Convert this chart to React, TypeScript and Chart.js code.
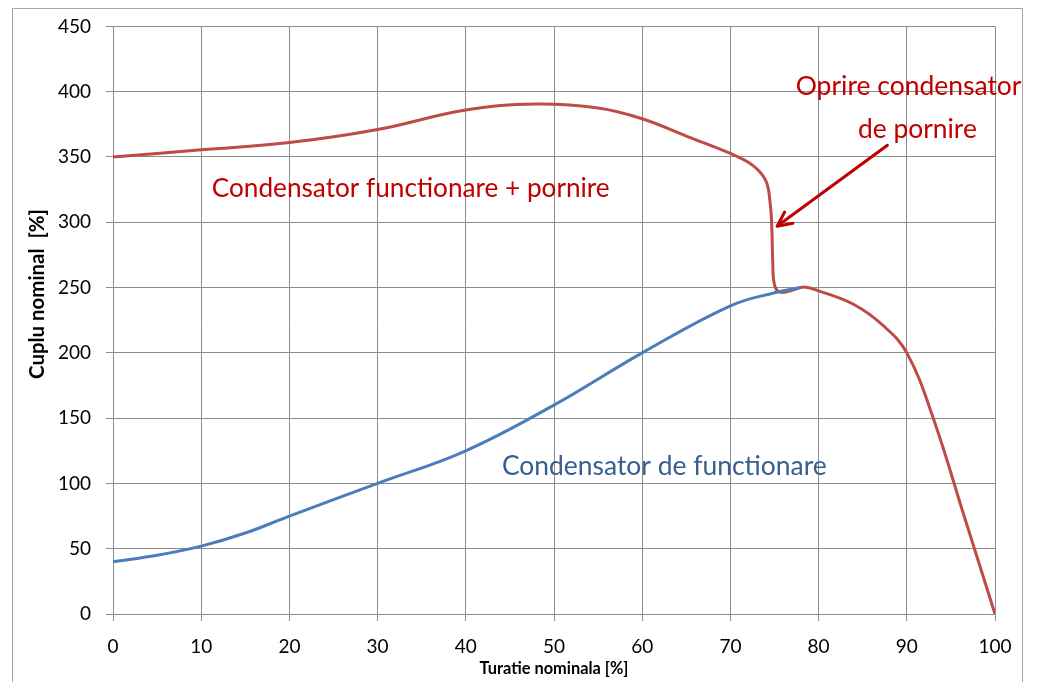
import React, { useEffect, useRef } from "react";
import { Chart, registerables } from "chart.js";

Chart.register(...registerables);

const xTicks = [0, 10, 20, 30, 40, 50, 60, 70, 80, 90, 100];
const yTicks = [0, 50, 100, 150, 200, 250, 300, 350, 400, 450];

const redX = [0, 10, 20, 30, 40, 48, 55, 60, 65, 70, 72.5, 74, 74.5, 74.7, 74.8, 75, 75.6, 77, 78.3, 80, 84, 87.3, 90, 93, 96.5, 100];
const redY = [350, 355.5, 361, 371, 386, 390.5, 387.5, 379.3, 366, 352.7, 343.8, 332, 315, 295, 270, 252, 246.5, 248, 250.5, 247.5, 237, 221, 200, 150, 75, 0];

const blueX = [0, 5, 10, 15, 20, 30, 40, 50, 60, 70, 75, 78];
const blueY = [40, 45, 52, 62, 75, 100, 125, 160, 200, 236, 246, 250];

const FONT = "Lato, 'Open Sans', sans-serif";

const labels = [
  { text: "Condensator functionare + pornire", x: 11.2, y: 326, align: "left", color: "#c00000", width: 398 },
  { text: "Condensator de functionare", x: 44.1, y: 113, align: "left", color: "#376092", width: 325 },
  { text: "Oprire condensator", x: 90.2, y: 404, align: "center", color: "#c00000", width: 226 },
  { text: "de pornire", x: 91.2, y: 371, align: "center", color: "#c00000", width: 119 },
];

const arrowFrom = { x: 87.8, y: 359 };
const arrowTo = { x: 75.3, y: 297 };

function fitFont(ctx: any, text: string, width: number, weight: string) {
  ctx.font = `${weight} 20px ${FONT}`;
  const w = ctx.measureText(text).width;
  const size = (20 * width) / w;
  ctx.font = `${weight} ${size}px ${FONT}`;
}

const overlay = {
  id: "overlay",
  beforeDraw(chart: any) {
    const ctx = chart.ctx;
    ctx.save();
    ctx.fillStyle = "#ffffff";
    ctx.fillRect(0, 0, chart.width, chart.height);
    ctx.strokeStyle = "#a6a6a6";
    ctx.lineWidth = 1;
    ctx.strokeRect(12.5, 8.5, 1010, 680);
    ctx.restore();
  },
  afterDraw(chart: any) {
    const ctx = chart.ctx;
    const xs = chart.scales.x;
    const ys = chart.scales.y;
    ctx.save();
    ctx.textBaseline = "middle";
    for (const l of labels) {
      fitFont(ctx, l.text, l.width, "normal");
      ctx.fillStyle = l.color;
      ctx.textAlign = l.align;
      ctx.fillText(l.text, xs.getPixelForValue(l.x), ys.getPixelForValue(l.y));
    }
    // arrow
    const x1 = xs.getPixelForValue(arrowFrom.x);
    const y1 = ys.getPixelForValue(arrowFrom.y);
    const x2 = xs.getPixelForValue(arrowTo.x);
    const y2 = ys.getPixelForValue(arrowTo.y);
    const ang = Math.atan2(y2 - y1, x2 - x1);
    const head = 16;
    ctx.strokeStyle = "#c00000";
    ctx.fillStyle = "#c00000";
    ctx.lineWidth = 3;
    ctx.lineCap = "round";
    ctx.beginPath();
    ctx.moveTo(x1, y1);
    ctx.lineTo(x2 + Math.cos(ang) * -4, y2 + Math.sin(ang) * -4);
    ctx.stroke();
    ctx.beginPath();
    ctx.moveTo(x2, y2);
    ctx.lineTo(x2 - head * Math.cos(ang - 0.45), y2 - head * Math.sin(ang - 0.45));
    ctx.moveTo(x2, y2);
    ctx.lineTo(x2 - head * Math.cos(ang + 0.45), y2 - head * Math.sin(ang + 0.45));
    ctx.stroke();
    // axis titles
    ctx.fillStyle = "#000000";
    ctx.textAlign = "center";
    fitFont(ctx, "Turatie nominala [%]", 149, "bold");
    ctx.fillText("Turatie nominala [%]", (chart.chartArea.left + chart.chartArea.right) / 2, 669);
    ctx.translate(37, 294);
    ctx.rotate(-Math.PI / 2);
    fitFont(ctx, "Cuplu nominal  [%]", 170, "bold");
    ctx.fillText("Cuplu nominal  [%]", 0, 0);
    ctx.restore();
  },
};

export default function App() {
  const ref = useRef<HTMLCanvasElement>(null);
  useEffect(() => {
    document.body.style.margin = "0";
    const red = redX.map((x, i) => ({ x, y: redY[i] }));
    const blue = blueX.map((x, i) => ({ x, y: blueY[i] }));
    const chart: any = new Chart(ref.current!, {
      type: "line",
      data: {
        datasets: [
          { data: blue, borderColor: "#4a7ebb", borderWidth: 3, pointRadius: 0, pointHoverRadius: 0, tension: 0.4, fill: false },
          { data: red, borderColor: "#be4b48", borderWidth: 3, pointRadius: 0, pointHoverRadius: 0, tension: 0.4, fill: false },
        ],
      },
      options: {
        animation: false,
        responsive: false,
        devicePixelRatio: 1,
        layout: { autoPadding: false, padding: { top: 22, right: 43, left: 0, bottom: 0 } },
        plugins: { legend: { display: false }, tooltip: { enabled: false } },
        scales: {
          x: {
            type: "linear",
            min: 0,
            max: 100,
            afterBuildTicks: (s: any) => { s.ticks = xTicks.map((v) => ({ value: v })); },
            afterFit: (s: any) => { s.height = 68; },
            ticks: { color: "#000", font: { family: FONT, size: 19 }, padding: 14, maxRotation: 0 },
            grid: { color: "#8c8c8c", lineWidth: 1, tickLength: 7, tickColor: "#8c8c8c" },
            border: { color: "#8c8c8c" },
          },
          y: {
            type: "linear",
            min: 0,
            max: 450,
            afterBuildTicks: (s: any) => { s.ticks = yTicks.map((v) => ({ value: v })); },
            afterFit: (s: any) => { s.width = 113; },
            ticks: { color: "#000", font: { family: FONT, size: 19 }, padding: 15 },
            grid: { color: "#8c8c8c", lineWidth: 1, tickLength: 7, tickColor: "#8c8c8c" },
            border: { color: "#8c8c8c" },
          },
        },
      },
      plugins: [overlay],
    } as any);
    const ca = chart.chartArea;
    const p = chart.options.layout.padding;
    const dTop = 22 - ca.top;
    const dRight = ca.right - 995;
    if (Math.abs(dTop) > 0.5 || Math.abs(dRight) > 0.5) {
      chart.options.layout.padding = { top: p.top + dTop, right: p.right + dRight, left: 0, bottom: 0 };
      chart.update();
    }
    return () => chart.destroy();
  }, []);
  return <canvas ref={ref} width={1038} height={682} style={{ display: "block" }} />;
}
